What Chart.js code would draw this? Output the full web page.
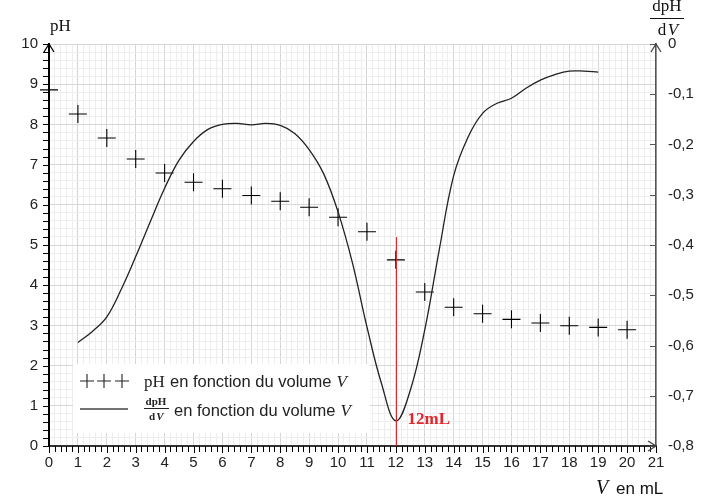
<!DOCTYPE html>
<html>
<head>
<meta charset="utf-8">
<script src="https://cdn.jsdelivr.net/npm/chart.js@4.4.1/dist/chart.umd.min.js"></script>
<style>
  html, body { margin: 0; padding: 0; background: #fff; }
  #wrap { width: 713px; height: 502px; }
</style>
</head>
<body>
<div id="wrap"><canvas id="myChart" width="713" height="502"></canvas></div>
<script>
// pH readings (mL of titrant -> pH)
const volumes = [0, 1, 2, 3, 4, 5, 6, 7, 8, 9, 10, 11, 12, 13, 14, 15, 16, 17, 18, 19, 20];
const phValues = [8.86, 8.26, 7.66, 7.14, 6.79, 6.56, 6.40, 6.23, 6.09, 5.94, 5.69, 5.33, 4.63, 3.83, 3.45, 3.29, 3.15, 3.06, 2.99, 2.95, 2.89];

// dpH/dV curve
const derivVolumes = [1, 1.5, 2, 2.5, 3, 3.5, 4, 4.5, 5, 5.5, 6, 6.5, 7, 7.5, 8, 8.5, 9, 9.5, 10, 10.5, 11, 11.5, 12, 12.5, 13, 13.5, 14, 14.5, 15, 15.5, 16, 16.5, 17, 17.5, 18, 18.5, 19];
const derivValues = [-0.594, -0.572, -0.543, -0.488, -0.423, -0.354, -0.287, -0.231, -0.194, -0.170, -0.160, -0.158, -0.161, -0.158, -0.162, -0.178, -0.210, -0.258, -0.334, -0.436, -0.563, -0.675, -0.750, -0.689, -0.569, -0.410, -0.262, -0.185, -0.138, -0.118, -0.108, -0.088, -0.072, -0.061, -0.054, -0.054, -0.056];

const eqVolume = 12;
const eqLineTop = 5.2;
const eqLabel = '12mL';

const isMajor = v => Math.abs(v - Math.round(v)) < 1e-6;
const majorGrid = '#d6d6d6';
const minorGrid = '#eeeeee';
const serif = '"Liberation Serif", "DejaVu Serif", serif';
const sans = '"Liberation Sans", Arial, sans-serif';

const decorations = {
  id: 'decorations',
  afterDatasetsDraw(chart) {
    const { ctx, chartArea: a, scales } = chart;
    const x = scales.x, y = scales.y;
    ctx.save();

    // tick marks on left and bottom axes
    ctx.strokeStyle = '#000';
    ctx.lineWidth = 1;
    for (let i = 0; i <= 50; i++) {
      const py = Math.round(y.getPixelForValue(i * 0.2)) + 0.5;
      ctx.beginPath();
      ctx.moveTo(a.left - 6, py);
      ctx.lineTo(a.left, py);
      ctx.stroke();
    }
    for (let i = 0; i <= 105; i++) {
      const px = Math.round(x.getPixelForValue(i * 0.2)) + 0.5;
      ctx.beginPath();
      ctx.moveTo(px, a.bottom);
      ctx.lineTo(px, a.bottom + (i % 5 === 0 ? 7 : 6));
      ctx.stroke();
    }
    // right axis ticks (inside)
    ctx.strokeStyle = '#555';
    for (let i = 0; i <= 8; i++) {
      const py = Math.round(scales.y2.getPixelForValue(-i / 10)) + 0.5;
      ctx.beginPath();
      ctx.moveTo(a.right - 6, py);
      ctx.lineTo(a.right, py);
      ctx.stroke();
    }

    // arrows
    ctx.strokeStyle = '#000';
    ctx.lineWidth = 1.3;
    const arrow = (pts) => {
      ctx.beginPath();
      ctx.moveTo(pts[0], pts[1]);
      ctx.lineTo(pts[2], pts[3]);
      ctx.lineTo(pts[4], pts[5]);
      ctx.stroke();
    };
    arrow([a.left - 5, a.top + 8, a.left, a.top, a.left + 5, a.top + 8]);
    ctx.strokeStyle = '#444';
    arrow([a.right - 5, a.top + 8, a.right, a.top, a.right + 5, a.top + 8]);
    arrow([a.right - 8, a.bottom - 5, a.right, a.bottom, a.right - 8, a.bottom + 5]);

    // equivalence line
    const ex = Math.round(x.getPixelForValue(eqVolume)) + 0.5;
    ctx.strokeStyle = '#e3262b';
    ctx.lineWidth = 1;
    ctx.beginPath();
    ctx.moveTo(ex, y.getPixelForValue(eqLineTop));
    ctx.lineTo(ex, a.bottom);
    ctx.stroke();
    ctx.fillStyle = '#e3262b';
    ctx.font = 'bold 17px ' + serif;
    ctx.textBaseline = 'alphabetic';
    ctx.fillText(eqLabel, ex + 11, 424);

    // axis titles
    ctx.fillStyle = '#111';
    ctx.font = '17px ' + serif;
    ctx.fillText('pH', 50, 31);

    ctx.textAlign = 'center';
    ctx.fillText('dpH', 667, 11);
    ctx.fillRect(650, 18, 34, 1);
    ctx.font = '17px ' + serif;
    ctx.fillText('d', 662, 35);
    ctx.font = 'italic 17px ' + serif;
    ctx.fillText('V', 673, 35);

    ctx.textAlign = 'left';
    ctx.font = 'italic 20px ' + serif;
    ctx.fillText('V', 596, 494);
    ctx.font = '17px ' + sans;
    ctx.fillText('en mL', 616, 494);

    // legend box
    ctx.fillStyle = '#fff';
    ctx.fillRect(73, 364, 297, 69);
    ctx.strokeStyle = '#222';
    ctx.lineWidth = 1.1;
    [87, 104, 122].forEach(cx => {
      ctx.beginPath();
      ctx.moveTo(cx - 7, 381); ctx.lineTo(cx + 7, 381);
      ctx.moveTo(cx, 374); ctx.lineTo(cx, 388);
      ctx.stroke();
    });
    ctx.strokeStyle = '#444';
    ctx.lineWidth = 1.5;
    ctx.beginPath();
    ctx.moveTo(80, 409);
    ctx.lineTo(128, 409);
    ctx.stroke();

    const legendText = 'en fonction du volume';
    ctx.fillStyle = '#222';
    ctx.font = '17px ' + serif;
    ctx.fillText('pH', 144, 387);
    ctx.font = '16.5px ' + sans;
    ctx.fillText(legendText, 170, 387);
    let w = ctx.measureText(legendText).width;
    ctx.font = 'italic 17px ' + serif;
    ctx.fillText('V', 170 + w + 5, 387);

    ctx.font = 'bold 11px ' + serif;
    ctx.textAlign = 'center';
    ctx.fillText('dpH', 156, 405);
    ctx.fillRect(144, 408, 25, 1);
    ctx.fillText('d', 152, 420);
    ctx.font = 'bold italic 11px ' + serif;
    ctx.fillText('V', 160, 420);
    ctx.textAlign = 'left';
    ctx.font = '16.5px ' + sans;
    ctx.fillText(legendText, 174, 416);
    w = ctx.measureText(legendText).width;
    ctx.font = 'italic 17px ' + serif;
    ctx.fillText('V', 174 + w + 5, 416);

    ctx.restore();
  }
};

const ctx = document.getElementById('myChart').getContext('2d');

const chartConfig = {
  type: 'scatter',
  data: {
    datasets: [
      {
        label: 'dpH/dV',
        data: derivVolumes.map((v, i) => ({ x: v, y: derivValues[i] })),
        yAxisID: 'y2',
        showLine: true,
        borderColor: '#222',
        borderWidth: 1.3,
        pointRadius: 0,
        tension: 0.4
      },
      {
        label: 'pH',
        data: volumes.map((v, i) => ({ x: v, y: phValues[i] })),
        yAxisID: 'y',
        pointStyle: 'cross',
        pointRadius: 9,
        borderColor: '#000',
        borderWidth: 1.1,
        backgroundColor: '#000',
        clip: false
      }
    ]
  },
  options: {
    responsive: false,
    animation: false,
    layout: { padding: { top: 44, left: 0, right: 0, bottom: 0 } },
    plugins: {
      legend: { display: false },
      tooltip: { enabled: false }
    },
    scales: {
      x: {
        type: 'linear',
        min: 0,
        max: 21,
        afterFit: s => { s.height = 56; },
        afterBuildTicks: s => { s.ticks = Array.from({ length: 106 }, (_, i) => ({ value: i * 0.2 })); },
        ticks: {
          autoSkip: false,
          maxRotation: 0,
          padding: 8,
          color: '#222',
          font: { family: sans, size: 15 },
          callback: v => isMajor(v) ? String(Math.round(v)) : ''
        },
        grid: {
          drawTicks: false,
          color: c => isMajor(c.tick.value) ? majorGrid : minorGrid,
          lineWidth: 1
        },
        border: { color: '#333', width: 2 }
      },
      y: {
        position: 'left',
        min: 0,
        max: 10,
        afterFit: s => { s.width = 49; },
        afterBuildTicks: s => { s.ticks = Array.from({ length: 51 }, (_, i) => ({ value: i * 0.2 })); },
        ticks: {
          autoSkip: false,
          padding: 11,
          color: '#222',
          font: { family: sans, size: 15 },
          callback: v => isMajor(v) ? String(Math.round(v)) : ''
        },
        grid: {
          drawTicks: false,
          color: c => isMajor(c.tick.value) ? majorGrid : minorGrid,
          lineWidth: 1
        },
        border: { color: '#000', width: 2 }
      },
      y2: {
        position: 'right',
        min: -0.8,
        max: 0,
        afterFit: s => { s.width = 57; },
        ticks: {
          stepSize: 0.1,
          padding: 12,
          color: '#222',
          font: { family: sans, size: 15 },
          callback: v => {
            const r = Math.round(v * 10) / 10;
            return r === 0 ? '0' : r.toFixed(1).replace('.', ',');
          }
        },
        grid: { drawOnChartArea: false, drawTicks: false },
        border: { color: '#555', width: 1.5 }
      }
    }
  },
  plugins: [decorations]
};

const myChart = new Chart(ctx, chartConfig);
</script>
</body>
</html>
